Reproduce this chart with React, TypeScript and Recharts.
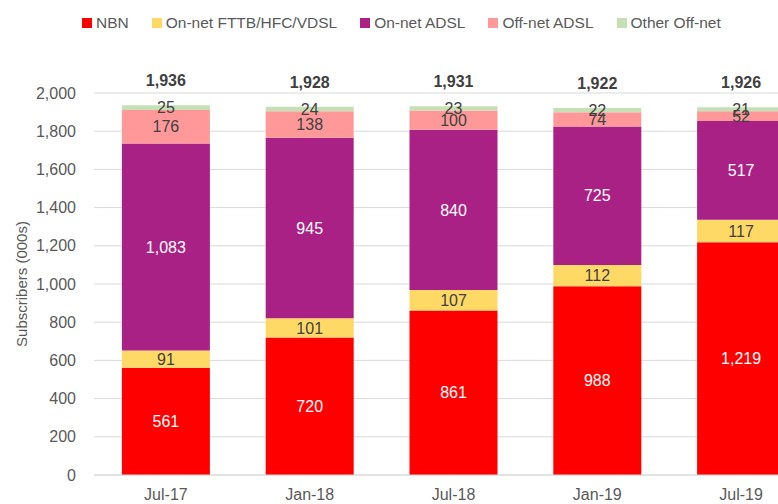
import { BarChart, Bar, XAxis, YAxis, CartesianGrid, LabelList } from "recharts";

const periods = ["Jul-17", "Jan-18", "Jul-18", "Jan-19", "Jul-19"];
const nbn = [561, 720, 861, 988, 1219];
const onNetFttb = [91, 101, 107, 112, 117];
const onNetAdsl = [1083, 945, 840, 725, 517];
const offNetAdsl = [176, 138, 100, 74, 52];
const otherOffNet = [25, 24, 23, 22, 21];
const totals = [1936, 1928, 1931, 1922, 1926];
const yTicks = [0, 200, 400, 600, 800, 1000, 1200, 1400, 1600, 1800, 2000];

const series = [
  { key: "nbn", name: "NBN", color: "#FF0000", text: "#FFFFFF" },
  { key: "fttb", name: "On-net FTTB/HFC/VDSL", color: "#FFD966", text: "#404040" },
  { key: "adsl", name: "On-net ADSL", color: "#AA2185", text: "#FFFFFF" },
  { key: "offAdsl", name: "Off-net ADSL", color: "#FF9999", text: "#404040" },
  { key: "other", name: "Other Off-net", color: "#C5E0B4", text: "#404040" },
];

const data = periods.map((p, i) => ({
  period: p,
  nbn: nbn[i],
  fttb: onNetFttb[i],
  adsl: onNetAdsl[i],
  offAdsl: offNetAdsl[i],
  other: otherOffNet[i],
  total: totals[i],
}));

const FONT = "'Liberation Sans', Arial, sans-serif";
const fmt = (v: any) => Number(v).toLocaleString("en-US");

export default function App() {
  return (
    <div
      style={{
        position: "absolute",
        left: 0,
        top: 0,
        width: 778,
        height: 504,
        overflow: "hidden",
        background: "#fff",
        fontFamily: FONT,
      }}
    >
      <div
        style={{
          position: "absolute",
          left: 82,
          top: 14,
          display: "flex",
          gap: 23,
          fontSize: 15.5,
          color: "#595959",
          whiteSpace: "nowrap",
        }}
      >
        {series.map((s) => (
          <div key={s.key} style={{ display: "flex", alignItems: "center" }}>
            <span
              style={{
                width: 10,
                height: 10,
                background: s.color,
                marginRight: 4,
                display: "inline-block",
              }}
            />
            <span>{s.name}</span>
          </div>
        ))}
      </div>

      <BarChart
        width={813}
        height={504}
        data={data}
        margin={{ top: 93, right: 0, bottom: 0, left: 0 }}
        barCategoryGap="19.4%"
        style={{ fontFamily: FONT }}
      >
        <CartesianGrid vertical={false} stroke="#D9D9D9" />
        <XAxis
          dataKey="period"
          height={29}
          axisLine={{ stroke: "#D9D9D9" }}
          tickLine={false}
          tickSize={0}
          tickMargin={14}
          tick={{ fontSize: 16, fill: "#595959" }}
        />
        <YAxis
          width={94}
          domain={[0, 2000]}
          ticks={yTicks}
          axisLine={false}
          tickLine={false}
          tickSize={0}
          tickMargin={18}
          tickFormatter={fmt}
          tick={{ fontSize: 16, fill: "#595959" }}
          label={{
            value: "Subscribers (000s)",
            angle: -90,
            position: "insideLeft",
            offset: 22,
            style: { textAnchor: "middle", fontSize: 15, fill: "#595959" },
          }}
        />
        {series.map((s, idx) => (
          <Bar
            key={s.key}
            dataKey={s.key}
            name={s.name}
            stackId="a"
            fill={s.color}
            isAnimationActive={false}
          >
            <LabelList
              dataKey={s.key}
              position="center"
              formatter={fmt}
              style={{ fontSize: 16, fill: s.text }}
            />
            {idx === series.length - 1 && (
              <LabelList
                dataKey="total"
                position="top"
                offset={19}
                formatter={fmt}
                style={{ fontSize: 16, fontWeight: "bold", fill: "#404040" }}
              />
            )}
          </Bar>
        ))}
      </BarChart>
    </div>
  );
}
